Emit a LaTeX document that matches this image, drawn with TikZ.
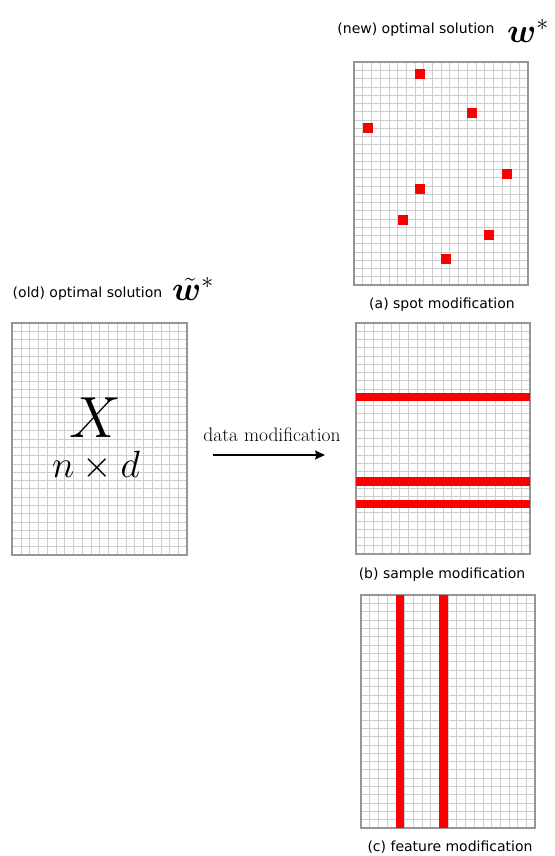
\RequirePackage{fix-cm}
\documentclass[tikz,border=0pt]{standalone}
\usepackage{amsmath}
\usepackage{amssymb}
\usepackage{bm}
\usepackage{fontspec}
\newfontfamily\labelfont{DejaVu Sans}
\usepackage{tikz}
\usetikzlibrary{arrows.meta}
\definecolor{modred}{RGB}{250,0,0}
\definecolor{cellgray}{RGB}{205,205,205}
\definecolor{edgegray}{RGB}{150,150,150}

% data matrix: name, x, y (lower left), width, height, rows
\newcommand{\datagrid}[6]{%
  \node[gridbox, minimum width=#4pt, minimum height=#5pt] (#1) at (#2,#3) {};
  \foreach \c in {1,...,19} \draw[gridline] ({#2+\c*#4/20},#3) -- ++(0,#5);
  \pgfmathtruncatemacro{\lastrow}{#6-1}
  \foreach \r in {1,...,\lastrow} \draw[gridline] (#2,{#3+\r*#5/#6}) -- ++(#4,0);
  \draw[gridedge] (#1.south west) rectangle (#1.north east);
}

\begin{document}
\begin{tikzpicture}[x=1pt, y=1pt,
    gridbox/.style={anchor=south west, inner sep=0pt, outer sep=0pt},
    gridline/.style={cellgray, line width=0.5pt},
    gridedge/.style={edgegray, line width=1.1pt},
    caption/.style={font=\labelfont\fontsize{14}{16}\selectfont, inner sep=0pt},
    spot/.style={fill=modred, minimum size=10pt, inner sep=0pt}]
  \useasboundingbox (0,0) rectangle (554,856);
  % Old data matrix X
  \datagrid{old}{12}{301}{175}{232}{28}
  \node[caption] (oldlabel) at (87.5,562) {(old) optimal solution};
  \node[anchor=base west, inner sep=0pt] (oldsym) at (172,555)
    {\fontsize{34}{36}\selectfont$\tilde{\bm{w}}^{*}$};
  \node[anchor=base, inner sep=0pt] (Xlabel) at (95,418)
    {\fontsize{58}{60}\selectfont$X$};
  \node[anchor=base, inner sep=0pt] (sizelabel) at (96,378)
    {\fontsize{38}{40}\selectfont$n\times d$};
  % Arrow
  \coordinate (arrS) at (213,401);
  \coordinate (arrE) at (325,401);
  \draw[line width=1.1pt, -{Stealth[length=10pt, width=9pt, inset=1.5pt]}] (arrS) -- (arrE);
  \node[anchor=base, inner sep=0pt, font=\fontsize{19.5}{21}\selectfont] (modlabel) at (272,414)
    {data modification};
  % (a) spot modification
  \datagrid{spotgrid}{354}{571}{174}{223}{27}
  \foreach \px/\py [count=\k] in {420/782, 471.7/743.3, 368/728.3, 506.7/682,
                                  419.7/667, 403.3/635.7, 489.3/621, 445.7/597.3}
    \node[spot] (s\k) at (\px,\py) {};
  \node[caption] (newlabel) at (416,826) {(new) optimal solution};
  \node[anchor=base west, inner sep=0pt] (newsym) at (507,813)
    {\fontsize{34}{36}\selectfont$\bm{w}^{*}$};
  \node[caption] (spotcap) at (442,551) {(a) spot modification};
  % (b) sample modification
  \datagrid{samplegrid}{356}{302}{174}{231}{28}
  \foreach \yb in {455, 370.3, 347.7}
    \fill[modred] (356,\yb) rectangle (530,\yb+8.3);
  \node[caption] (samplecap) at (442,281) {(b) sample modification};
  % (c) feature modification
  \datagrid{featuregrid}{361}{28}{174}{233}{28}
  \foreach \xb in {396, 439.3}
    \fill[modred] (\xb,28) rectangle (\xb+8.3,261);
  \node[caption] (featurecap) at (450,9) {(c) feature modification};
\end{tikzpicture}
\end{document}
